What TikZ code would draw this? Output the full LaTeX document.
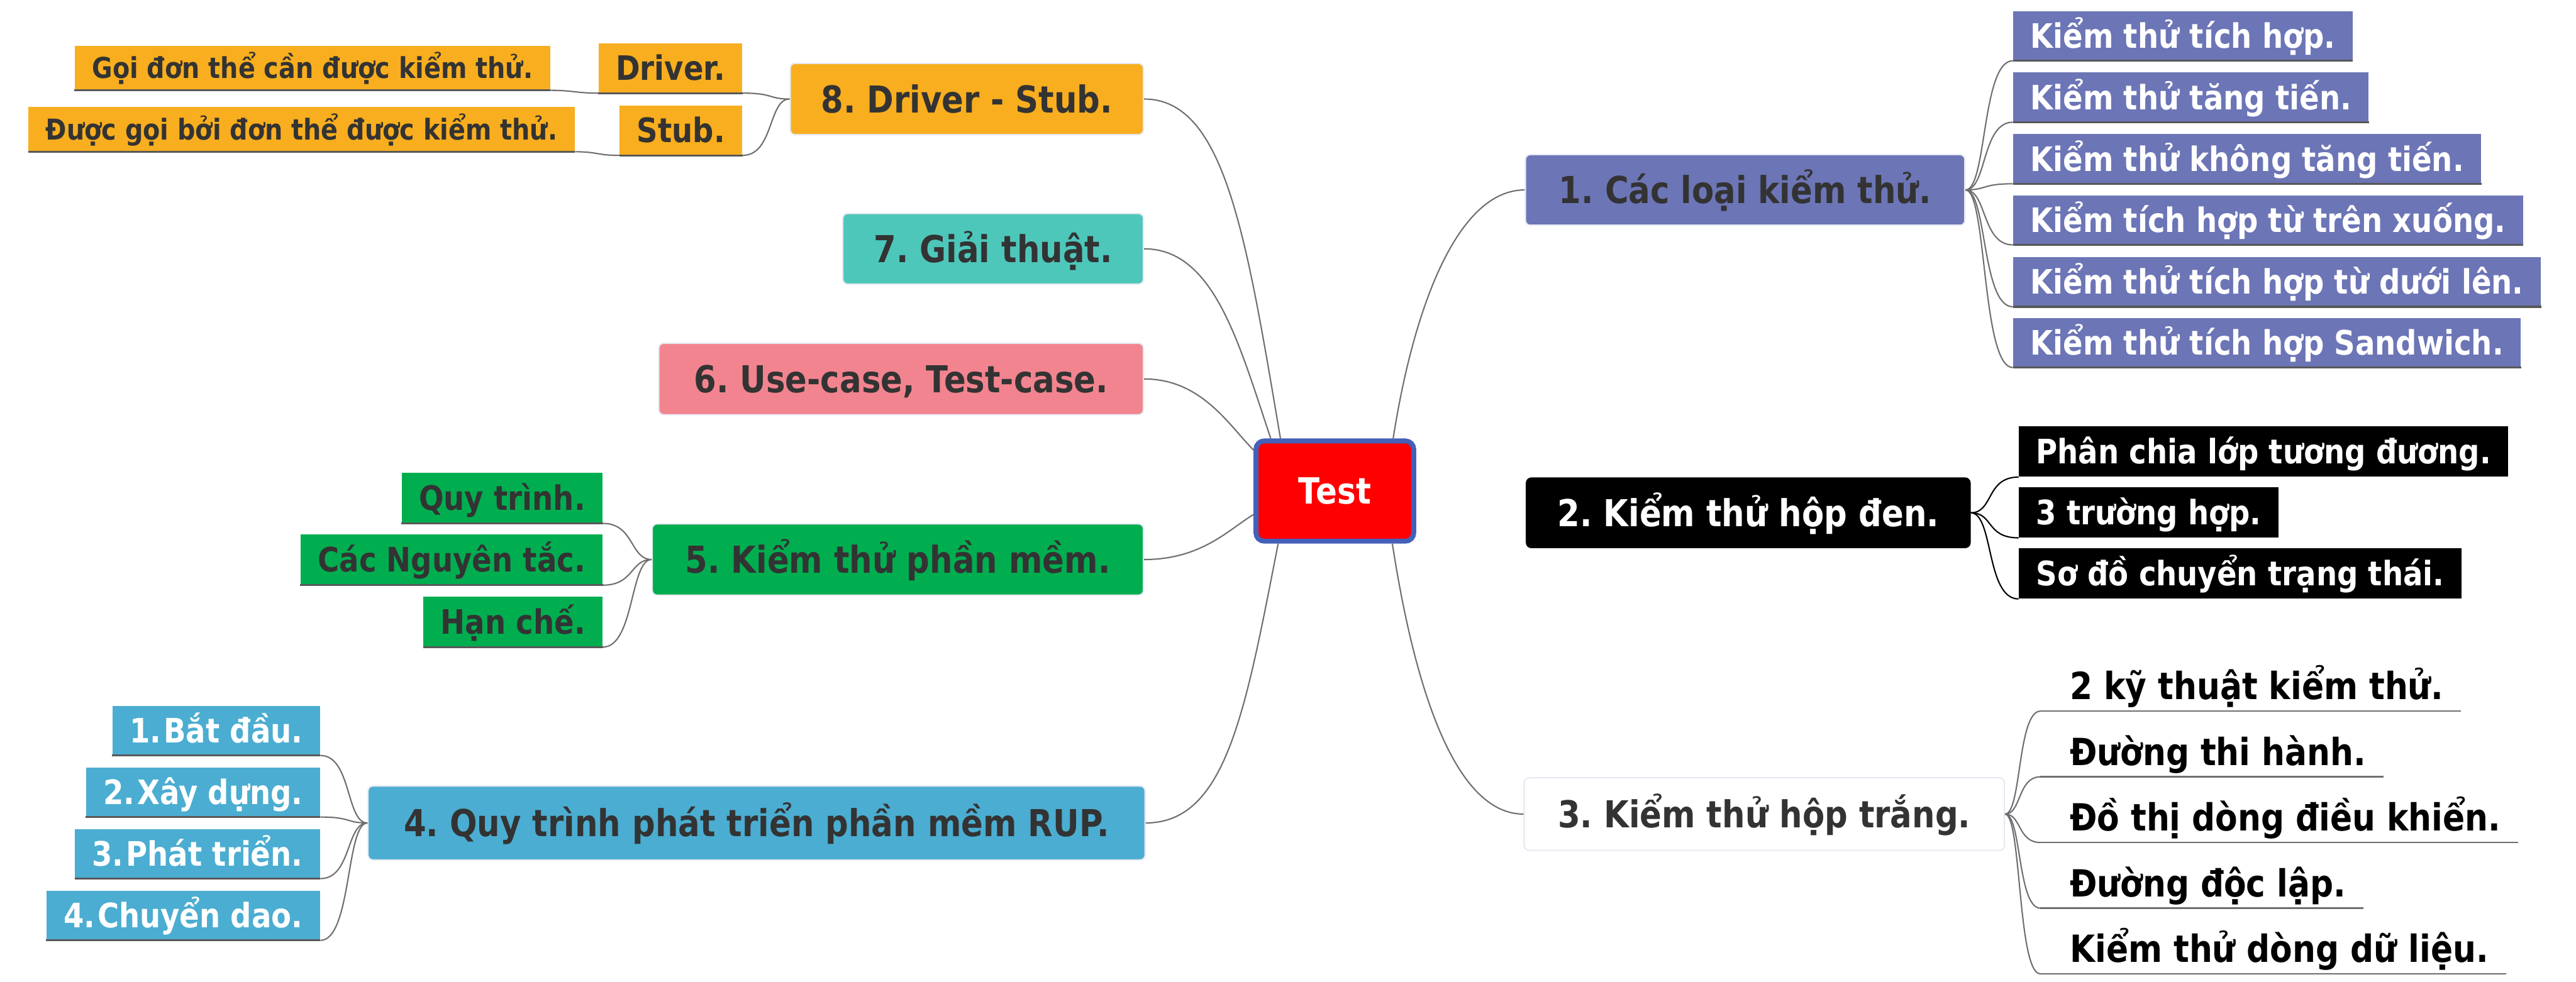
\documentclass[tikz,border=0pt]{standalone}
\usepackage{fontspec}
\usetikzlibrary{calc}
\newfontfamily\mmfont{DejaVu Sans}[FakeStretch=0.87]
\newcommand\mmfmain{\frenchspacing\mmfont\bfseries\fontsize{22.6}{27}\selectfont}
\newcommand\mmfleaf{\frenchspacing\mmfont\bfseries\fontsize{20.5}{24}\selectfont}
\newcommand\mmfplain{\frenchspacing\mmfont\bfseries\fontsize{22.8}{27}\selectfont}
\newcommand\mmfsmall{\frenchspacing\mmfont\bfseries\fontsize{17.5}{21}\selectfont}
\newcommand\mmftest{\frenchspacing\mmfont\bfseries\fontsize{22}{26}\selectfont}
\newcommand\mmnum{\kern1.5pt}
\definecolor{cone}{RGB}{108,117,182}
\definecolor{cfour}{RGB}{75,173,209}
\definecolor{cfive}{RGB}{0,174,80}
\definecolor{csix}{RGB}{242,132,143}
\definecolor{cseven}{RGB}{78,199,187}
\definecolor{ceight}{RGB}{248,174,30}
\definecolor{mmdark}{RGB}{51,51,51}
\definecolor{mmline}{RGB}{110,110,110}
\definecolor{mmuline}{RGB}{88,88,88}
\definecolor{mmborder}{RGB}{230,233,242}
\definecolor{testborder}{RGB}{68,96,184}
\begin{document}
\begin{tikzpicture}[x=1pt,y=1pt,
  mainbox/.style={rounded corners=3pt, draw=mmborder, line width=0.8pt, inner sep=0pt,
    text height=16.5pt, text depth=0pt, font=\mmfmain, text=mmdark},
  leafbox/.style={inner xsep=10.5pt, inner ysep=0pt, minimum height=30pt,
    text height=14.9pt, text depth=0pt, font=\mmfleaf},
  leafsmall/.style={leafbox, minimum height=27pt, text height=12.7pt, font=\mmfsmall},
  plaintext/.style={inner sep=0pt, font=\mmfplain, text=black},
  conn/.style={draw=mmline, line width=0.8pt},
  connblack/.style={draw=black, line width=0.8pt},
  uline/.style={draw=mmuline, line width=1.2pt},
  ulinethree/.style={draw=mmline, line width=1pt},
]
\useasboundingbox (0,0) rectangle (1568,-597.7);

% central node
\node[mainbox, fill=red, draw=testborder, line width=3pt, rounded corners=5pt,
  minimum width=96pt, minimum height=61pt, text=white, text height=16pt, font=\mmftest]
  (test) at (812.5,-299) {Test};

% main branches
\node[mainbox, fill=cone, minimum width=267.5pt, minimum height=43pt] (n1) at (1062.25,-115.65) {1. Các loại kiểm thử.};
\node[mainbox, fill=black, draw=black, text=white, minimum width=270pt, minimum height=42.3pt] (n2) at (1064.15,-312.25) {2. Kiểm thử hộp đen.};
\node[mainbox, fill=white, draw=mmborder, minimum width=292.3pt, minimum height=44.2pt] (n3) at (1073.9,-495.7) {3. Kiểm thử hộp trắng.};
\node[mainbox, fill=cfour, minimum width=473pt, minimum height=45pt] (n4) at (460.5,-501.1) {4. Quy trình phát triển phần mềm RUP.};
\node[mainbox, fill=cfive, minimum width=299pt, minimum height=43.4pt] (n5) at (546.5,-340.7) {5. Kiểm thử phần mềm.};
\node[mainbox, fill=csix, minimum width=295pt, minimum height=43.5pt] (n6) at (548.5,-230.75) {6. Use-case, Test-case.};
\node[mainbox, fill=cseven, minimum width=183pt, minimum height=43pt] (n7) at (604.5,-151.5) {7. Giải thuật.};
\node[mainbox, fill=ceight, minimum width=215pt, minimum height=43.4pt] (n8) at (588.5,-60.3) {8. Driver - Stub.};

% branch 1 leaves
\node[leafbox, fill=cone, text=white, anchor=south west] (l1a) at (1225.2,-37) {Kiểm thử tích hợp.};
\node[leafbox, fill=cone, text=white, anchor=south west] (l1b) at (1225.2,-74.4) {Kiểm thử tăng tiến.};
\node[leafbox, fill=cone, text=white, anchor=south west] (l1c) at (1225.2,-111.9) {Kiểm thử không tăng tiến.};
\node[leafbox, fill=cone, text=white, anchor=south west] (l1d) at (1225.2,-149.1) {Kiểm tích hợp từ trên xuống.};
\node[leafbox, fill=cone, text=white, anchor=south west] (l1e) at (1225.2,-186.8) {Kiểm thử tích hợp từ dưới lên.};
\node[leafbox, fill=cone, text=white, anchor=south west] (l1f) at (1225.2,-223.8) {Kiểm thử tích hợp Sandwich.};

% branch 2 leaves
\node[leafbox, fill=black, text=white, minimum height=30.6pt, anchor=south west] (l2a) at (1228.7,-290.5) {Phân chia lớp tương đương.};
\node[leafbox, fill=black, text=white, minimum height=30.6pt, anchor=south west] (l2b) at (1228.7,-327.5) {3 trường hợp.};
\node[leafbox, fill=black, text=white, minimum height=30.6pt, anchor=south west] (l2c) at (1228.7,-364.7) {Sơ đồ chuyển trạng thái.};

% branch 3 leaves (underlined text)
\coordinate (u3a) at (1242,-433);
\coordinate (u3b) at (1242,-473);
\coordinate (u3c) at (1242,-513);
\coordinate (u3d) at (1242,-553);
\coordinate (u3e) at (1242,-593);
\node[plaintext, anchor=base west] (t3a) at (1259.7,-426) {2 kỹ thuật kiểm thử.};
\node[plaintext, anchor=base west] (t3b) at (1259.7,-466) {Đường thi hành.};
\node[plaintext, anchor=base west] (t3c) at (1259.7,-506) {Đồ thị dòng điều khiển.};
\node[plaintext, anchor=base west] (t3d) at (1259.7,-546) {Đường độc lập.};
\node[plaintext, anchor=base west] (t3e) at (1259.7,-586) {Kiểm thử dòng dữ liệu.};
\foreach \k in {a,b,c,d,e}
  \draw[ulinethree] (u3\k) -- ($(t3\k.base east)+(10.5,-7)$);

% branch 5 leaves
\node[leafbox, fill=cfive, text=mmdark, minimum height=30.7pt, anchor=south east] (l5a) at (367,-318.7) {Quy trình.};
\node[leafbox, fill=cfive, text=mmdark, minimum height=30.7pt, anchor=south east] (l5b) at (367,-356.3) {Các Nguyên tắc.};
\node[leafbox, fill=cfive, text=mmdark, minimum height=30.7pt, anchor=south east] (l5c) at (367,-394) {Hạn chế.};

% branch 4 leaves
\node[leafbox, fill=cfour, text=white, anchor=south east] (l4a) at (195,-460) {1.\mmnum Bắt đầu.};
\node[leafbox, fill=cfour, text=white, anchor=south east] (l4b) at (195,-497.5) {2.\mmnum Xây dựng.};
\node[leafbox, fill=cfour, text=white, anchor=south east] (l4c) at (195,-535) {3.\mmnum Phát triển.};
\node[leafbox, fill=cfour, text=white, anchor=south east] (l4d) at (195,-572.6) {4.\mmnum Chuyển dao.};

% branch 8 leaves
\node[leafbox, fill=ceight, text=mmdark, anchor=south east] (l8a) at (452,-56.7) {Driver.};
\node[leafbox, fill=ceight, text=mmdark, anchor=south east] (l8b) at (452,-94.6) {Stub.};
\node[leafsmall, fill=ceight, text=mmdark, anchor=south east] (l8c) at (335,-55) {Gọi đơn thể cần được kiểm thử.};
\node[leafsmall, fill=ceight, text=mmdark, anchor=south east] (l8d) at (350,-92.4) {Được gọi bởi đơn thể được kiểm thử.};

% underlines of leaf boxes
\foreach \n in {l1a,l1b,l1c,l1d,l1e,l1f,l5a,l5b,l5c,l4a,l4b,l4c,l4d,l8a,l8b,l8c,l8d}
  \draw[uline] (\n.south west) -- (\n.south east);

% attachment points on the central node
\coordinate (t8) at ($(test.north west)+(16.4,0)$);
\coordinate (t7) at ($(test.north west)+(10.5,0)$);
\coordinate (t1) at ($(test.north east)+(-14,0)$);
\coordinate (t6) at ($(test.north west)+(0,-7)$);
\coordinate (t5) at ($(test.west)+(0,-14.3)$);
\coordinate (t4) at ($(test.south west)+(15,0)$);
\coordinate (t3) at ($(test.south east)+(-14.5,0)$);

% connectors from the central node
\draw[conn] (n8.east) .. controls ($(n8.east)+(49,0)$) and ($(t8)+(-21,124)$) .. (t8);
\draw[conn] (n7.east) .. controls ($(n7.east)+(42.6,0)$) and ($(t7)+(-19.4,57.75)$) .. (t7);
\draw[conn] (n6.east) .. controls ($(n6.east)+(35,0)$) and ($(t6)+(-15,15)$) .. (t6);
\draw[conn] (n5.east) .. controls ($(n5.east)+(35,0)$) and ($(t5)+(-15,-9)$) .. (t5);
\draw[conn] (n4.east) .. controls ($(n4.east)+(49,0)$) and ($(t4)+(-20,-102)$) .. (t4);
\draw[conn] (t3) .. controls ($(t3)+(14.5,-94)$) and ($(n3.west)+(-40,0)$) .. (n3.west);
\draw[conn] (t1) .. controls ($(t1)+(13,83)$) and ($(n1.west)+(-40,0)$) .. (n1.west);

% leaf connectors
\foreach \n in {l1a,l1b,l1c,l1d,l1e,l1f}
  \draw[conn] (n1.east) to[out=0,in=180,out distance=13,in distance=19] (\n.south west);
\foreach \n in {l2a,l2b,l2c}
  \draw[connblack] (n2.east) to[out=0,in=180,out distance=14,in distance=20] (\n.south west);
\foreach \k in {a,b,c,d,e}
  \draw[conn] (n3.east) to[out=0,in=180,out distance=10,in distance=14] (u3\k);
\foreach \n in {l5a,l5b,l5c}
  \draw[conn] (n5.west) to[out=180,in=0,out distance=13,in distance=19] (\n.south east);
\foreach \n in {l4a,l4b,l4c,l4d}
  \draw[conn] (n4.west) to[out=180,in=0,out distance=13,in distance=19] (\n.south east);
\foreach \n in {l8a,l8b}
  \draw[conn] (n8.west) to[out=180,in=0,out distance=13,in distance=19] (\n.south east);
\draw[conn] (l8a.south west) to[out=180,in=0,out distance=14,in distance=14] (l8c.south east);
\draw[conn] (l8b.south west) to[out=180,in=0,out distance=14,in distance=14] (l8d.south east);
\end{tikzpicture}
\end{document}
